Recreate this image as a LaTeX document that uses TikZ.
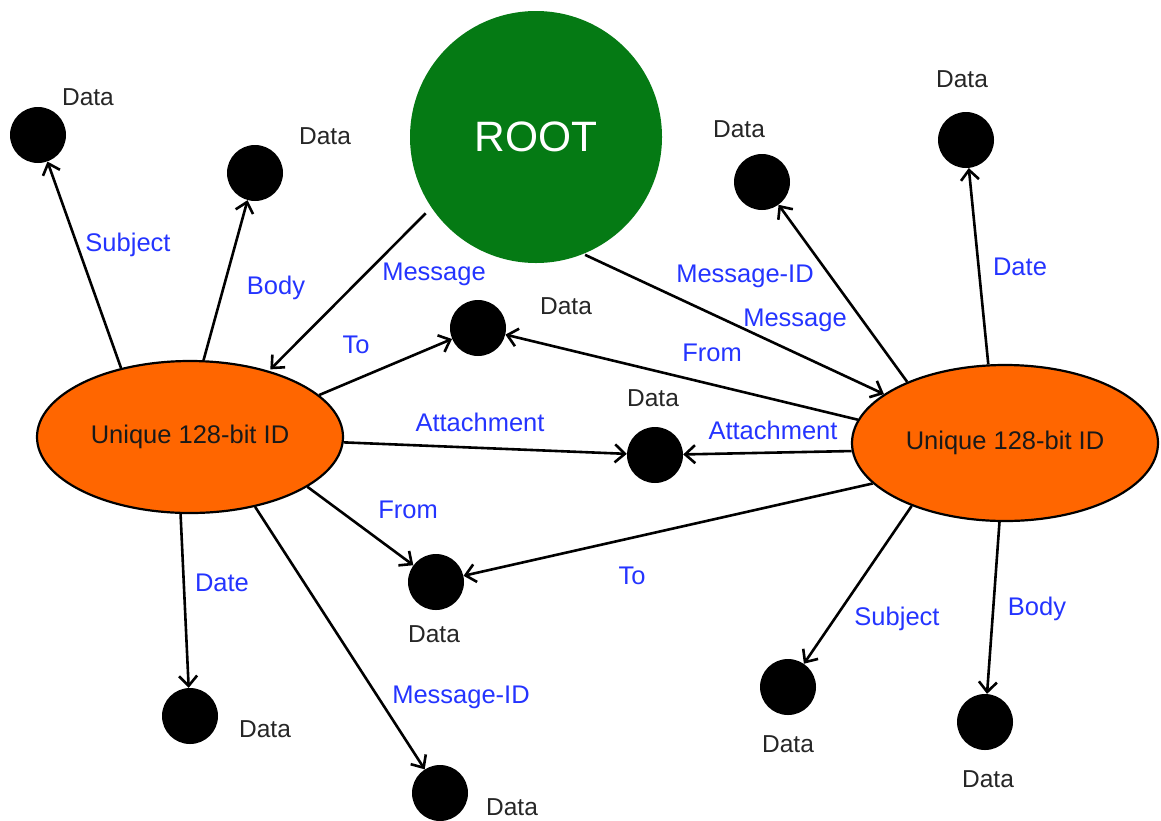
\documentclass[tikz,border=0pt]{standalone}
\usepackage{fontspec}
\setmainfont{Liberation Sans}
\usetikzlibrary{shapes.geometric,arrows.meta}
\definecolor{rootgreen}{RGB}{5,122,20}
\definecolor{idorange}{RGB}{255,102,0}
\definecolor{lblblue}{RGB}{36,52,255}
\tikzset{
  dot/.style={circle,fill=black,minimum size=56pt,inner sep=0pt},
  idnode/.style={ellipse,draw=black,line width=2.2pt,fill=idorange,
    minimum width=306pt,minimum height=152pt,inner sep=0pt,
    font=\fontsize{25.5}{30}\selectfont,text=black!90},
  rootnode/.style={circle,fill=rootgreen,minimum size=252pt,inner sep=0pt,
    text=white,font=\fontsize{42.5}{50}\selectfont},
  datalbl/.style={font=\fontsize{24.5}{29}\selectfont,text=black!85},
  rel/.style={font=\fontsize{25.5}{30}\selectfont,text=lblblue},
  link/.style={line width=2.6pt,-{Straight Barb[length=10pt,width=18pt]}}
}
\begin{document}
\begin{tikzpicture}[x=1pt,y=-1pt]
\useasboundingbox (0,0) rectangle (1161,820);

% central nodes
\node[rootnode] (root) at (536,137) {ROOT};
\node[idnode] (L) at (190,437) {Unique 128-bit ID};
\node[idnode,minimum height=156pt] (R) at (1005,443) {Unique 128-bit ID};

% data points
\node[dot] (dA) at (38,135) {};
\node[dot] (dB) at (255,173) {};
\node[dot] (dC) at (478,328) {};
\node[dot] (dD) at (655,455) {};
\node[dot] (dE) at (436,582) {};
\node[dot] (dF) at (190,716) {};
\node[dot] (dG) at (440,793) {};
\node[dot] (dH) at (762,182) {};
\node[dot] (dI) at (966,140) {};
\node[dot] (dJ) at (788,687) {};
\node[dot] (dK) at (985,722) {};

% data captions
\node[datalbl] (tA) at (88,97) {Data};
\node[datalbl] (tB) at (325,136) {Data};
\node[datalbl] (tC) at (566,306) {Data};
\node[datalbl] (tD) at (653,398) {Data};
\node[datalbl] (tE) at (434,634) {Data};
\node[datalbl] (tF) at (265,729) {Data};
\node[datalbl] (tG) at (512,807) {Data};
\node[datalbl] (tH) at (739,129) {Data};
\node[datalbl] (tI) at (962,79) {Data};
\node[datalbl] (tJ) at (788,744) {Data};
\node[datalbl] (tK) at (988,779) {Data};

% links
\draw[link,shorten <=8pt,shorten >=2pt] (root.214) -- (L.40);
\draw[link,shorten <=2pt] (root.-68) -- (R.158);

\draw[link] (L.135) -- (dA);
\draw[link] (L.80) -- (dB);
\draw[link] (L.18) -- (dC);
\draw[link] (L.-2) -- (dD);
\draw[link] (L.-23) -- (dE);
\draw[link] (L.-97) -- (dF);
\draw[link] (L.-47) -- (dG);

\draw[link] (R.148) -- (dH);
\draw[link] (R.102) -- (dI);
\draw[link] (R.171) -- (dC);
\draw[link] (R.183) -- (dD);
\draw[link] (R.197) -- (dE);
\draw[link] (R.214) -- (dJ);
\draw[link] (R.266) -- (dK);

% link captions
\node[rel] (lSubjL) at (128,245) {Subject};
\node[rel] (lBodyL) at (276,288) {Body};
\node[rel] (lMsgL) at (434,274) {Message};
\node[rel] (lToL) at (356,345) {To};
\node[rel] (lAttL) at (480,422) {Attachment};
\node[rel] (lFromL) at (408,510) {From};
\node[rel] (lDateL) at (222,583) {Date};
\node[rel] (lMidL) at (461,697) {Message-ID};
\node[rel] (lMidR) at (745,276) {Message-ID};
\node[rel] (lMsgR) at (795,320) {Message};
\node[rel] (lFromR) at (712,353) {From};
\node[rel] (lAttR) at (773,430) {Attachment};
\node[rel] (lToR) at (632,576) {To};
\node[rel] (lDateR) at (1020,267) {Date};
\node[rel] (lSubjR) at (897,619) {Subject};
\node[rel] (lBodyR) at (1037,609) {Body};
\end{tikzpicture}
\end{document}
